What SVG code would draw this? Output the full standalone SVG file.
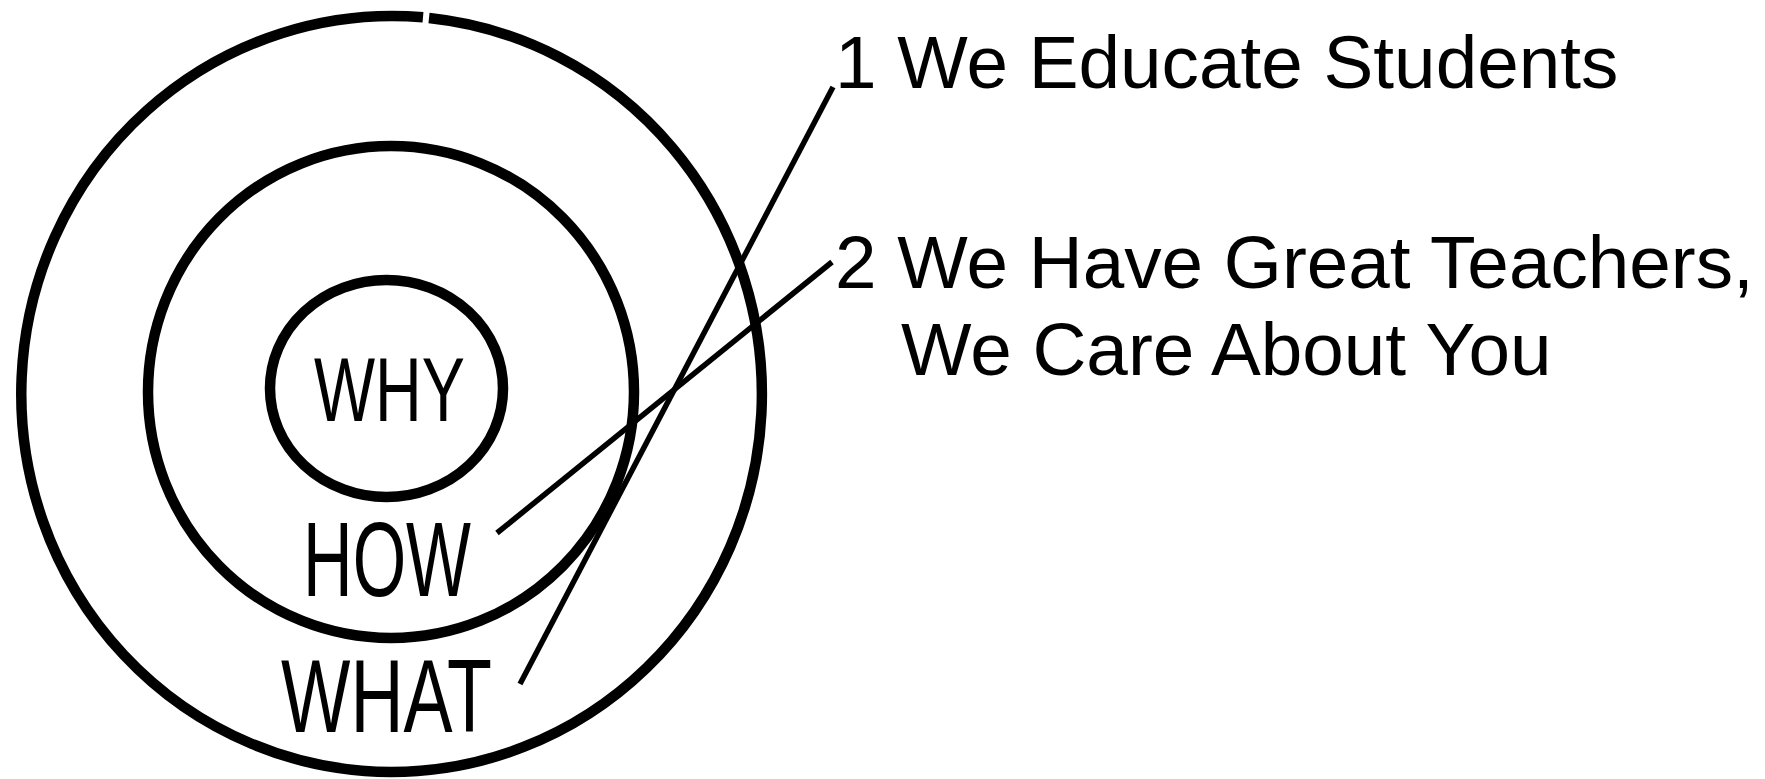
<svg xmlns="http://www.w3.org/2000/svg" width="1765" height="779" viewBox="0 0 1765 779">
<style>
.ring{fill:none;stroke:#000;stroke-width:10.5;stroke-linecap:butt;stroke-linejoin:round}
.hand{font-family:"Liberation Sans Narrow","Liberation Sans",Arial,sans-serif;fill:#000}
.lbl{font-family:"Liberation Sans",Arial,sans-serif;font-size:74.7px;fill:#000}
.conn{stroke:#000;stroke-width:5.5;fill:none}
</style>
<rect width="1765" height="779" fill="#fff"/>
<g id="what">
<path class="ring" d="M429,18 A371,378 0 0,1 391,772 A371,378 0 1,1 423,17.3"/>
<text class="hand" x="281" y="732" font-size="103" textLength="211" lengthAdjust="spacingAndGlyphs">WHAT</text>
</g>
<g id="how">
<ellipse class="ring" cx="391" cy="392" rx="243" ry="246"/>
<text class="hand" x="303" y="596" font-size="106" textLength="168" lengthAdjust="spacingAndGlyphs">HOW</text>
</g>
<g id="why">
<ellipse class="ring" cx="386.5" cy="388.5" rx="116.5" ry="108.5"/>
<text class="hand" x="314" y="421" font-size="91" textLength="151" lengthAdjust="spacingAndGlyphs">WHY</text>
</g>
<g id="connectors">
<line class="conn" x1="520" y1="684" x2="833" y2="87"/>
<line class="conn" x1="497" y1="533" x2="832" y2="262"/>
</g>
<g id="label-1">
<text class="lbl" x="835" y="88">1 We Educate Students</text>
</g>
<g id="label-2">
<text class="lbl" x="835" y="288">2 We Have Great Teachers,</text>
<text class="lbl" x="901" y="375">We Care About You</text>
</g>
</svg>
